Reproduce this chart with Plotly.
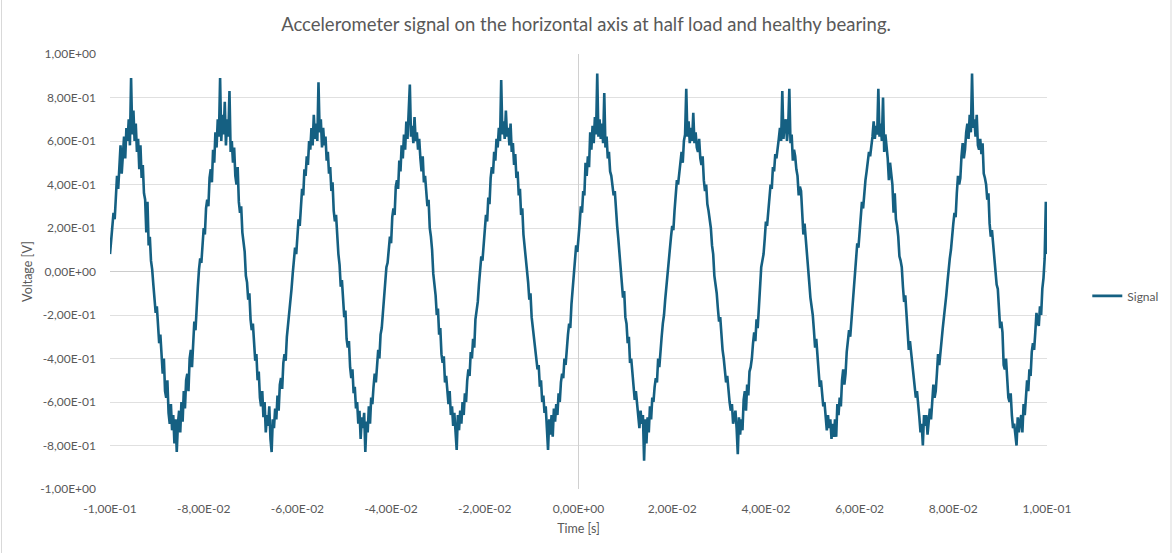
import numpy as np
import plotly.graph_objects as go

# Accelerometer record, horizontal axis, half load, healthy bearing.
# Sampled every 0.25 ms from -0.1 s to +0.1 s; one list per mains cycle.
start_time_s = -0.1
sample_period_s = 0.00025

cycle_0 = [0.08, 0.14, 0.19, 0.27, 0.24, 0.33, 0.44, 0.38, 0.47, 0.58,
           0.45, 0.55, 0.62, 0.52, 0.66, 0.60, 0.70, 0.58, 0.89, 0.63,
           0.74, 0.60, 0.68, 0.55, 0.61, 0.47, 0.58, 0.43, 0.49, 0.36,
           0.33, 0.18, 0.32, 0.12, 0.16, 0.05, 0.01, -0.06, -0.12, -0.19,
           -0.16, -0.28, -0.33, -0.29, -0.42, -0.47, -0.40, -0.55, -0.58, -0.50,
           -0.65, -0.70, -0.61, -0.73, -0.66, -0.79, -0.68, -0.83, -0.70, -0.64,
           -0.74, -0.60, -0.69, -0.55, -0.63, -0.50, -0.47, -0.55, -0.40, -0.36,
           -0.44, -0.29, -0.23, -0.27, -0.14, -0.07]
cycle_1 = [0.01, 0.06, 0.04, 0.14, 0.20, 0.17, 0.29, 0.33, 0.30, 0.43,
           0.47, 0.41, 0.56, 0.50, 0.64, 0.57, 0.70, 0.62, 0.89, 0.60,
           0.72, 0.63, 0.78, 0.58, 0.70, 0.62, 0.83, 0.55, 0.60, 0.50,
           0.57, 0.44, 0.40, 0.48, 0.32, 0.27, 0.30, 0.18, 0.14, 0.09,
           -0.02, -0.05, -0.13, -0.10, -0.22, -0.27, -0.24, -0.36, -0.41, -0.38,
           -0.50, -0.46, -0.58, -0.62, -0.55, -0.67, -0.60, -0.74, -0.66, -0.71,
           -0.62, -0.77, -0.83, -0.68, -0.72, -0.63, -0.68, -0.57, -0.64, -0.52,
           -0.49, -0.54, -0.42, -0.38, -0.41, -0.30, -0.25, -0.21, -0.15, -0.08]
cycle_2 = [-0.01, 0.05, 0.11, 0.08, 0.19, 0.24, 0.21, 0.33, 0.38, 0.35,
           0.47, 0.44, 0.53, 0.49, 0.60, 0.56, 0.66, 0.58, 0.72, 0.61,
           0.68, 0.60, 0.87, 0.64, 0.70, 0.57, 0.66, 0.58, 0.62, 0.51,
           0.55, 0.45, 0.48, 0.37, 0.41, 0.28, 0.23, 0.26, 0.13, 0.08,
           0.03, -0.07, -0.04, -0.16, -0.21, -0.18, -0.31, -0.35, -0.32, -0.44,
           -0.49, -0.45, -0.56, -0.53, -0.63, -0.60, -0.70, -0.64, -0.77, -0.67,
           -0.72, -0.65, -0.83, -0.69, -0.74, -0.62, -0.70, -0.58, -0.61, -0.53,
           -0.47, -0.51, -0.43, -0.36, -0.40, -0.29, -0.26, -0.19, -0.12, -0.06]
cycle_3 = [0.02, 0.04, 0.12, 0.16, 0.13, 0.25, 0.29, 0.26, 0.39, 0.42,
           0.38, 0.51, 0.46, 0.58, 0.52, 0.63, 0.56, 0.69, 0.61, 0.72,
           0.86, 0.62, 0.67, 0.59, 0.71, 0.60, 0.64, 0.56, 0.61, 0.52,
           0.46, 0.53, 0.41, 0.44, 0.34, 0.30, 0.33, 0.20, 0.16, 0.10,
           -0.01, -0.06, -0.11, -0.20, -0.17, -0.29, -0.26, -0.38, -0.42, -0.39,
           -0.51, -0.48, -0.57, -0.61, -0.55, -0.66, -0.62, -0.71, -0.65, -0.74,
           -0.82, -0.66, -0.73, -0.64, -0.70, -0.60, -0.66, -0.56, -0.60, -0.50,
           -0.45, -0.48, -0.37, -0.40, -0.31, -0.35, -0.22, -0.18, -0.14, -0.06]
cycle_4 = [0.03, 0.07, 0.05, 0.15, 0.19, 0.26, 0.23, 0.34, 0.31, 0.43,
           0.48, 0.45, 0.55, 0.51, 0.61, 0.57, 0.66, 0.60, 0.88, 0.63,
           0.69, 0.61, 0.74, 0.62, 0.66, 0.58, 0.68, 0.55, 0.59, 0.49,
           0.54, 0.43, 0.46, 0.35, 0.38, 0.26, 0.29, 0.17, 0.12, 0.07,
           0.01, -0.05, -0.13, -0.10, -0.21, -0.26, -0.30, -0.34, -0.39, -0.45,
           -0.43, -0.53, -0.50, -0.60, -0.57, -0.65, -0.62, -0.70, -0.82, -0.68,
           -0.75, -0.66, -0.76, -0.63, -0.69, -0.61, -0.66, -0.56, -0.60, -0.51,
           -0.47, -0.49, -0.40, -0.43, -0.33, -0.29, -0.24, -0.26, -0.15, -0.09]
cycle_5 = [0.00, 0.06, 0.12, 0.09, 0.18, 0.22, 0.30, 0.27, 0.37, 0.35,
           0.50, 0.44, 0.53, 0.48, 0.64, 0.56, 0.67, 0.59, 0.71, 0.63,
           0.91, 0.62, 0.70, 0.61, 0.68, 0.59, 0.82, 0.57, 0.62, 0.52,
           0.55, 0.46, 0.44, 0.39, 0.35, 0.37, 0.26, 0.21, 0.15, 0.09,
           0.02, -0.04, -0.12, -0.09, -0.21, -0.24, -0.33, -0.30, -0.42, -0.40,
           -0.46, -0.52, -0.59, -0.55, -0.61, -0.67, -0.72, -0.64, -0.70, -0.66,
           -0.87, -0.68, -0.79, -0.67, -0.74, -0.62, -0.68, -0.58, -0.60, -0.53,
           -0.49, -0.51, -0.40, -0.44, -0.34, -0.30, -0.24, -0.20, -0.13, -0.07]
cycle_6 = [-0.01, 0.07, 0.11, 0.16, 0.21, 0.19, 0.28, 0.35, 0.42, 0.40,
           0.45, 0.52, 0.55, 0.50, 0.60, 0.63, 0.84, 0.62, 0.69, 0.59,
           0.66, 0.60, 0.73, 0.59, 0.64, 0.57, 0.55, 0.61, 0.52, 0.49,
           0.53, 0.42, 0.37, 0.40, 0.31, 0.28, 0.24, 0.20, 0.12, 0.08,
           -0.02, -0.06, -0.10, -0.17, -0.23, -0.21, -0.31, -0.36, -0.40, -0.45,
           -0.51, -0.48, -0.56, -0.60, -0.64, -0.61, -0.70, -0.66, -0.64, -0.72,
           -0.84, -0.67, -0.75, -0.68, -0.73, -0.59, -0.55, -0.64, -0.52, -0.57,
           -0.46, -0.44, -0.40, -0.33, -0.28, -0.32, -0.22, -0.26, -0.15, -0.09]
cycle_7 = [0.02, 0.05, 0.08, 0.15, 0.23, 0.21, 0.29, 0.33, 0.40, 0.38,
           0.48, 0.46, 0.54, 0.52, 0.58, 0.61, 0.66, 0.60, 0.83, 0.61,
           0.68, 0.70, 0.60, 0.66, 0.84, 0.59, 0.63, 0.51, 0.56, 0.53,
           0.47, 0.44, 0.35, 0.39, 0.37, 0.28, 0.17, 0.22, 0.14, 0.11,
           0.01, -0.05, -0.12, -0.16, -0.20, -0.27, -0.35, -0.31, -0.38, -0.45,
           -0.53, -0.50, -0.55, -0.62, -0.60, -0.68, -0.73, -0.66, -0.72, -0.68,
           -0.77, -0.70, -0.76, -0.68, -0.76, -0.61, -0.66, -0.58, -0.62, -0.50,
           -0.45, -0.52, -0.47, -0.37, -0.33, -0.27, -0.30, -0.22, -0.15, -0.10]
cycle_8 = [0.00, 0.07, 0.13, 0.11, 0.17, 0.25, 0.32, 0.29, 0.38, 0.42,
           0.46, 0.50, 0.55, 0.53, 0.57, 0.62, 0.69, 0.61, 0.67, 0.63,
           0.84, 0.62, 0.68, 0.60, 0.80, 0.55, 0.63, 0.58, 0.52, 0.42,
           0.50, 0.45, 0.40, 0.27, 0.36, 0.24, 0.21, 0.16, 0.07, 0.05,
           0.02, -0.07, -0.14, -0.11, -0.18, -0.26, -0.36, -0.32, -0.37, -0.44,
           -0.49, -0.53, -0.58, -0.55, -0.60, -0.67, -0.74, -0.70, -0.80, -0.66,
           -0.71, -0.66, -0.75, -0.70, -0.63, -0.68, -0.61, -0.52, -0.58, -0.55,
           -0.47, -0.38, -0.43, -0.36, -0.31, -0.26, -0.21, -0.17, -0.11, -0.05]
cycle_9 = [0.02, 0.06, 0.10, 0.18, 0.22, 0.27, 0.25, 0.36, 0.44, 0.40,
           0.43, 0.53, 0.59, 0.52, 0.56, 0.64, 0.68, 0.61, 0.72, 0.64,
           0.91, 0.66, 0.70, 0.62, 0.72, 0.58, 0.56, 0.61, 0.54, 0.59,
           0.45, 0.43, 0.40, 0.33, 0.36, 0.22, 0.16, 0.19, 0.12, 0.06,
           -0.03, -0.06, -0.08, -0.20, -0.26, -0.23, -0.28, -0.43, -0.45, -0.40,
           -0.50, -0.58, -0.60, -0.56, -0.66, -0.72, -0.70, -0.76, -0.80, -0.67,
           -0.74, -0.69, -0.66, -0.74, -0.61, -0.66, -0.56, -0.50, -0.55, -0.45,
           -0.48, -0.37, -0.33, -0.36, -0.28, -0.19, -0.23, -0.25, -0.16, -0.20]
tail = [-0.08, -0.03, 0.06, 0.32, 0.08]

x_tick_values = [-0.10, -0.08, -0.06, -0.04, -0.02, 0.0, 0.02, 0.04, 0.06, 0.08, 0.10]
x_tick_labels = ["-1,00E-01", "-8,00E-02", "-6,00E-02", "-4,00E-02", "-2,00E-02",
                 "0,00E+00", "2,00E-02", "4,00E-02", "6,00E-02", "8,00E-02", "1,00E-01"]
y_tick_values = [-1.0, -0.8, -0.6, -0.4, -0.2, 0.0, 0.2, 0.4, 0.6, 0.8, 1.0]
y_tick_labels = ["-1,00E+00", "-8,00E-01", "-6,00E-01", "-4,00E-01", "-2,00E-01",
                 "0,00E+00", "2,00E-01", "4,00E-01", "6,00E-01", "8,00E-01", "1,00E+00"]

voltage_v = (cycle_0 + cycle_1 + cycle_2 + cycle_3 + cycle_4 + cycle_5
             + cycle_6 + cycle_7 + cycle_8 + cycle_9 + tail)
time_s = np.round(start_time_s + sample_period_s * np.arange(len(voltage_v)), 6)

TEXT = "#595959"
FONT = "Lato, 'Open Sans', sans-serif"

fig = go.Figure()
fig.add_trace(go.Scatter(
    x=time_s, y=voltage_v, mode="lines", name="Signal",
    line=dict(color="#156082", width=2.6),
))

fig.update_layout(
    width=1173, height=553,
    margin=dict(l=110, r=126, t=54, b=64, autoexpand=False),
    paper_bgcolor="white", plot_bgcolor="white",
    font=dict(family=FONT, color=TEXT, size=12),
    title=dict(
        text="Accelerometer signal on the horizontal axis at half load and healthy bearing.",
        x=586 / 1173, xref="container", y=1 - 25 / 553, yref="container",
        xanchor="center", yanchor="middle",
        font=dict(family=FONT, size=18.5, color=TEXT),
    ),
    showlegend=True,
    legend=dict(
        x=1.043, y=0.444, xanchor="left", yanchor="middle",
        font=dict(family=FONT, size=12, color=TEXT),
        bgcolor="rgba(0,0,0,0)", itemwidth=30,
    ),
    xaxis=dict(
        range=[-0.1, 0.1], tickvals=x_tick_values, ticktext=x_tick_labels,
        showgrid=False, zeroline=True, zerolinecolor="#d0d0d0", zerolinewidth=1,
        showline=False, ticks="", ticklabelstandoff=11,
        title=dict(text="Time [s]", standoff=9, font=dict(size=12.5, color=TEXT)),
        tickfont=dict(size=12, color=TEXT),
    ),
    yaxis=dict(
        range=[-1.0, 1.0], tickvals=y_tick_values, ticktext=y_tick_labels,
        showgrid=True, gridcolor="#e0e0e0", gridwidth=1,
        zeroline=True, zerolinecolor="#cccccc", zerolinewidth=1,
        showline=False, ticks="", ticklabelstandoff=13,
        title=dict(text="Voltage [V]", standoff=4, font=dict(size=12.5, color=TEXT)),
        tickfont=dict(size=12, color=TEXT),
    ),
    shapes=[dict(
        type="rect", xref="paper", yref="paper",
        x0=(1.5 - 110) / 937, x1=(1171 - 110) / 937,
        y0=-0.2, y1=1.2,
        line=dict(color="#d9d9d9", width=1), fillcolor="rgba(0,0,0,0)", layer="below",
    )],
)

fig.write_html("out.html")
